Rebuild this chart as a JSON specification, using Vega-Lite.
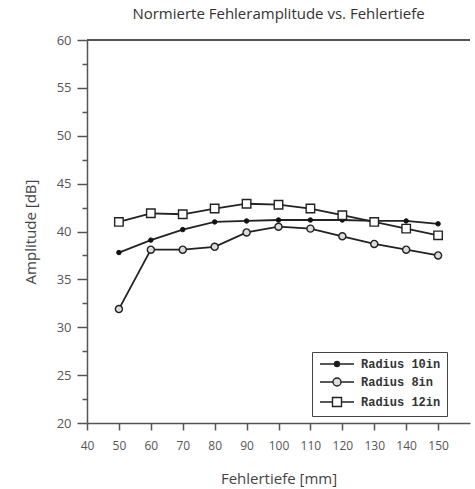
{
  "$schema": "https://vega.github.io/schema/vega-lite/v6.json",
  "width": 383,
  "height": 383,
  "autosize": "none",
  "padding": {"left": 87, "top": 40, "right": 5, "bottom": 66},
  "background": "white",
  "title": {"text": "Normierte Fehleramplitude vs. Fehlertiefe", "font": "Open Sans", "fontSize": 15, "fontWeight": "normal", "color": "#333", "offset": 12, "anchor": "middle"},
  "config": {
    "view": {"stroke": null},
    "axis": {"labelFont": "Open Sans", "titleFont": "Open Sans", "labelColor": "#555", "titleColor": "#444", "labelFontSize": 13, "titleFontSize": 15, "titleFontWeight": "normal", "domainColor": "#555", "tickColor": "#555", "domainWidth": 1.5, "tickWidth": 1.5, "grid": false, "labelOverlap": false}
  },
  "data": {"values": [
    {"x": 50, "series": "Radius 10in", "y": 37.8},
    {"x": 60, "series": "Radius 10in", "y": 39.1},
    {"x": 70, "series": "Radius 10in", "y": 40.2},
    {"x": 80, "series": "Radius 10in", "y": 41.0},
    {"x": 90, "series": "Radius 10in", "y": 41.1},
    {"x": 100, "series": "Radius 10in", "y": 41.2},
    {"x": 110, "series": "Radius 10in", "y": 41.2},
    {"x": 120, "series": "Radius 10in", "y": 41.2},
    {"x": 130, "series": "Radius 10in", "y": 41.1},
    {"x": 140, "series": "Radius 10in", "y": 41.1},
    {"x": 150, "series": "Radius 10in", "y": 40.8},
    {"x": 50, "series": "Radius 8in", "y": 31.9},
    {"x": 60, "series": "Radius 8in", "y": 38.1},
    {"x": 70, "series": "Radius 8in", "y": 38.1},
    {"x": 80, "series": "Radius 8in", "y": 38.4},
    {"x": 90, "series": "Radius 8in", "y": 39.9},
    {"x": 100, "series": "Radius 8in", "y": 40.5},
    {"x": 110, "series": "Radius 8in", "y": 40.3},
    {"x": 120, "series": "Radius 8in", "y": 39.5},
    {"x": 130, "series": "Radius 8in", "y": 38.7},
    {"x": 140, "series": "Radius 8in", "y": 38.1},
    {"x": 150, "series": "Radius 8in", "y": 37.5},
    {"x": 50, "series": "Radius 12in", "y": 41.0},
    {"x": 60, "series": "Radius 12in", "y": 41.9},
    {"x": 70, "series": "Radius 12in", "y": 41.8},
    {"x": 80, "series": "Radius 12in", "y": 42.4},
    {"x": 90, "series": "Radius 12in", "y": 42.9},
    {"x": 100, "series": "Radius 12in", "y": 42.8},
    {"x": 110, "series": "Radius 12in", "y": 42.4},
    {"x": 120, "series": "Radius 12in", "y": 41.7},
    {"x": 130, "series": "Radius 12in", "y": 41.0},
    {"x": 140, "series": "Radius 12in", "y": 40.3},
    {"x": 150, "series": "Radius 12in", "y": 39.6}
  ]},
  "layer": [
    {
      "mark": {"type": "rule", "color": "#555", "strokeWidth": 1.5},
      "encoding": {"y": {"datum": 60, "type": "quantitative", "axis": null}}
    },
    {
      "mark": {"type": "line", "color": "#222", "strokeWidth": 1.8},
      "encoding": {
        "x": {"field": "x", "type": "quantitative", "scale": {"domain": [40, 160], "nice": false, "zero": false},
              "axis": {"title": "Fehlertiefe [mm]", "values": [40, 50, 60, 70, 80, 90, 100, 110, 120, 130, 140, 150], "tickSize": 7, "labelPadding": 10, "titlePadding": 20, "labelFlush": false, "labelFontSize": 12, "labelOverlap": false}},
        "y": {"field": "y", "type": "quantitative", "scale": {"domain": [20, 60], "nice": false, "zero": false},
              "axis": {"title": "Amplitude [dB]", "values": [20, 25, 30, 35, 40, 45, 50, 55, 60], "tickSize": 10, "labelPadding": 6, "titlePadding": 18}},
        "detail": {"field": "series"}
      }
    },
    {
      "transform": [{"filter": "datum.series === 'Radius 10in'"}],
      "mark": {"type": "point", "shape": "circle", "size": 20, "filled": true, "fill": "#111", "stroke": "#111", "strokeWidth": 1, "opacity": 1},
      "encoding": {
        "x": {"field": "x", "type": "quantitative", "axis": {"title": "Fehlertiefe [mm]", "values": [40, 50, 60, 70, 80, 90, 100, 110, 120, 130, 140, 150], "tickSize": 7, "labelPadding": 10, "titlePadding": 20, "labelFlush": false, "labelFontSize": 12, "labelOverlap": false}},
        "y": {"field": "y", "type": "quantitative", "axis": null}}
    },
    {
      "transform": [{"filter": "datum.series === 'Radius 8in'"}],
      "mark": {"type": "point", "shape": "circle", "size": 50, "filled": true, "fill": "#ddd", "stroke": "#222", "strokeWidth": 1.4, "opacity": 1},
      "encoding": {
        "x": {"field": "x", "type": "quantitative", "axis": {"title": "Fehlertiefe [mm]", "values": [40, 50, 60, 70, 80, 90, 100, 110, 120, 130, 140, 150], "tickSize": 7, "labelPadding": 10, "titlePadding": 20, "labelFlush": false, "labelFontSize": 12, "labelOverlap": false}},
        "y": {"field": "y", "type": "quantitative", "axis": null}}
    },
    {
      "transform": [{"filter": "datum.series === 'Radius 12in'"}],
      "mark": {"type": "point", "shape": "square", "size": 72, "filled": true, "fill": "#fff", "stroke": "#222", "strokeWidth": 1.4, "opacity": 1},
      "encoding": {
        "x": {"field": "x", "type": "quantitative", "axis": {"title": "Fehlertiefe [mm]", "values": [40, 50, 60, 70, 80, 90, 100, 110, 120, 130, 140, 150], "tickSize": 7, "labelPadding": 10, "titlePadding": 20, "labelFlush": false, "labelFontSize": 12, "labelOverlap": false}},
        "y": {"field": "y", "type": "quantitative", "axis": null}}
    },
    {
      "transform": [{"filter": "datum.x < 0"}],
      "mark": {"type": "rule", "color": "#555"},
      "encoding": {
        "y": {"field": "y", "type": "quantitative",
              "axis": {"orient": "left", "values": [22.5, 27.5, 32.5, 37.5, 42.5, 47.5, 52.5, 57.5], "labels": false, "domain": false, "tickSize": 5, "title": null}}
      }
    },
    {
      "transform": [{"filter": "datum.x < 0"}],
      "mark": {"type": "point", "strokeWidth": 1.4, "opacity": 1},
      "encoding": {
        "shape": {"field": "series", "type": "nominal",
          "scale": {"domain": ["Radius 10in", "Radius 8in", "Radius 12in"],
                    "range": ["M-4.25,0H4.25M-0.625,0A0.625,0.625 0 1,0 0.625,0A0.625,0.625 0 1,0 -0.625,0Z",
                              "M-4.25,0H-1M1,0H4.25M-1,0A1,1 0 1,0 1,0A1,1 0 1,0 -1,0Z",
                              "M-4.25,0H-1.125M1.125,0H4.25M-1.125,-1.125H1.125V1.125H-1.125Z"]},
          "legend": {"orient": "none", "legendX": 225, "legendY": 312, "title": null, "strokeColor": "#444", "padding": 6, "labelFont": "Liberation Mono", "labelFontWeight": "bold", "labelFontSize": 12, "labelColor": "#333", "symbolSize": 64, "symbolOffset": 13, "symbolStrokeWidth": 1.4, "rowPadding": 5, "labelOffset": 18, "symbolOpacity": 1}},
        "fill": {"field": "series", "type": "nominal",
          "scale": {"domain": ["Radius 10in", "Radius 8in", "Radius 12in"], "range": ["#111", "#ddd", "#fff"]}},
        "stroke": {"field": "series", "type": "nominal",
          "scale": {"domain": ["Radius 10in", "Radius 8in", "Radius 12in"], "range": ["#222", "#222", "#222"]}}
      }
    }
  ],
  "resolve": {"axis": {"y": "independent"}}
}
